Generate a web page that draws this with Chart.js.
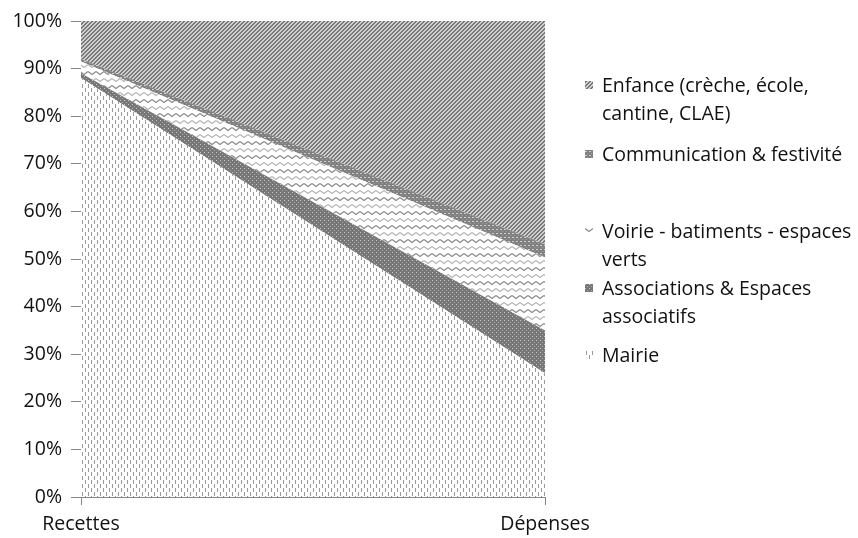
<!DOCTYPE html>
<html>
<head>
<meta charset="utf-8">
<script src="https://cdn.jsdelivr.net/npm/chart.js@4.4.1/dist/chart.umd.min.js"></script>
<style>
  html, body { margin:0; padding:0; background:#fff; }
  #wrap { position:relative; width:858px; height:538px; }
  #legend { position:absolute; left:585px; top:0; font-family:"Open Sans", "Liberation Sans", sans-serif; font-size:19.5px; color:#111; }
  .item { position:absolute; left:0; white-space:nowrap; }
  .item canvas { position:absolute; left:0; top:0; }
  .item .txt { position:absolute; left:17px; top:0; line-height:28px; }
</style>
</head>
<body>
<div id="wrap">
  <canvas id="c" width="858" height="538"></canvas>
  <div id="legend"></div>
</div>
<script>
// ---- data ----
const categories = ["Recettes", "Dépenses"];
const seriesNames = ["Mairie", "Associations & Espaces associatifs", "Voirie - batiments - espaces verts", "Communication & festivité", "Enfance (crèche, école, cantine, CLAE)"];
const mairie = [88.0, 26.0];
const associations = [1.0, 9.0];
const voirie = [2.5, 15.3];
const communication = [0.5, 2.8];
const enfance = [8.0, 46.9];
const yTicks = [0, 10, 20, 30, 40, 50, 60, 70, 80, 90, 100];

// legend lines (in reverse order, as in the reference)
const legendLines = [
  ["Enfance (crèche, école,", "cantine, CLAE)"],
  ["Communication & festivité"],
  ["Voirie - batiments - espaces", "verts"],
  ["Associations & Espaces", "associatifs"],
  ["Mairie"]
];
const legendFirstLineY = [85, 154, 231, 288, 355];

// ---- patterns ----
function tile(w, h, draw) {
  const c = document.createElement('canvas');
  c.width = w; c.height = h;
  const g = c.getContext('2d');
  draw(g);
  return c;
}
const tMairie = tile(6, 8, g => {
  g.fillStyle = '#fff'; g.fillRect(0,0,6,8);
  g.fillStyle = '#9a9a9a';
  g.fillRect(1,0,1,4); g.fillRect(4,4,1,4);
});
const tAssoc = tile(4, 4, g => {
  g.fillStyle = '#777'; g.fillRect(0,0,4,4);
  g.fillStyle = '#c8c8c8'; g.fillRect(0,0,1,1);
  g.fillStyle = '#a8a8a8'; g.fillRect(2,2,1,1);
});
const tVoirie = tile(8, 14, g => {
  g.fillStyle = '#fff'; g.fillRect(0,0,8,14);
  g.lineWidth = 1.2;
  g.strokeStyle = '#8a8a8a';
  g.beginPath(); g.moveTo(0,1.5); g.lineTo(4,4.5); g.lineTo(8,1.5); g.stroke();
  g.strokeStyle = '#b5b5b5';
  g.beginPath(); g.moveTo(0,8.5); g.lineTo(4,11.5); g.lineTo(8,8.5); g.stroke();
});
const tComm = tile(4, 4, g => {
  g.fillStyle = '#808080'; g.fillRect(0,0,4,4);
  g.fillStyle = '#d0d0d0'; g.fillRect(0,1,2,1);
  g.fillStyle = '#a0a0a0'; g.fillRect(2,3,1,1);
});
const tEnf = tile(4, 4, g => {
  g.fillStyle = '#d0d0d0'; g.fillRect(0,0,4,4);
  g.fillStyle = '#7a7a7a';
  for (let x = 0; x < 4; x++) for (let y = 0; y < 4; y++) {
    const m = (x + y) % 4;
    if (m === 0 || m === 1) g.fillRect(x, y, 1, 1);
  }
});
const tiles = [tMairie, tAssoc, tVoirie, tComm, tEnf];
const ctx = document.getElementById('c').getContext('2d');
const pats = tiles.map(t => ctx.createPattern(t, 'repeat'));
const seriesValues = [mairie, associations, voirie, communication, enfance];

const datasets = seriesValues.map((vals, i) => ({
  label: seriesNames[i],
  data: vals,
  backgroundColor: pats[i],
  borderWidth: 0,
  borderColor: 'rgba(0,0,0,0)',
  pointRadius: 0,
  fill: i === 0 ? 'origin' : '-1',
  tension: 0
}));

const axisFont = { family: '"Open Sans", sans-serif', size: 19.5 };

new Chart(ctx, {
  type: 'line',
  data: { labels: categories, datasets },
  options: {
    responsive: false,
    animation: false,
    layout: { padding: { left: 0, right: 313, top: 21, bottom: 0 } },
    plugins: { legend: { display: false }, tooltip: { enabled: false } },
    scales: {
      x: {
        offset: false,
        grid: { drawOnChartArea: false, drawTicks: true, tickLength: 8, color: '#868686' },
        border: { color: '#868686', width: 1 },
        ticks: { color: '#111', font: axisFont, padding: 8, maxRotation: 0, autoSkip: false },
        afterFit: s => { s.height = 41; }
      },
      y: {
        stacked: true,
        min: 0, max: 100,
        afterBuildTicks: s => { s.ticks = yTicks.map(v => ({ value: v })); },
        grid: { drawOnChartArea: false, drawTicks: true, tickLength: 10, color: '#868686' },
        border: { color: '#868686', width: 1 },
        ticks: { color: '#111', font: axisFont, padding: 9, callback: v => v + '%' },
        afterFit: s => { s.width = 81; }
      }
    }
  }
});

// ---- HTML legend ----
const legendPats = [4, 3, 2, 1, 0];
const leg = document.getElementById('legend');
legendLines.forEach((lines, k) => {
  const d = document.createElement('div');
  d.className = 'item';
  d.style.top = (legendFirstLineY[k] - 14) + 'px';
  const sw = document.createElement('canvas');
  sw.width = 8; sw.height = 8;
  sw.style.top = '10px';
  const sg = sw.getContext('2d');
  sg.fillStyle = sg.createPattern(tiles[legendPats[k]], 'repeat');
  sg.fillRect(0,0,8,8);
  d.appendChild(sw);
  const t = document.createElement('div');
  t.className = 'txt';
  t.innerHTML = lines.join('<br>');
  d.appendChild(t);
  leg.appendChild(d);
});
</script>
</body>
</html>
